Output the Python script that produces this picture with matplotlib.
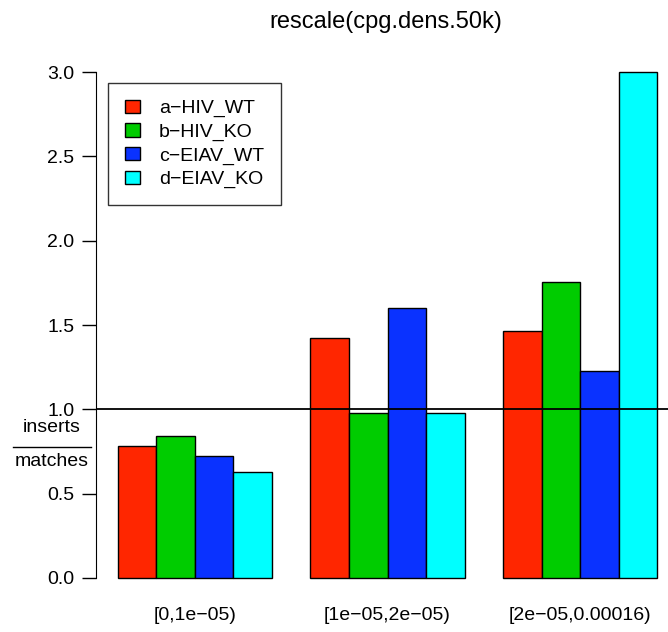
import numpy as np
import matplotlib.pyplot as plt
from matplotlib.patches import Patch
from matplotlib.lines import Line2D

plt.rcParams['font.family'] = ['Liberation Sans', 'DejaVu Sans']

# ratio of inserts to matches per CpG density bin
bins = ['[0,1e\u221205)', '[1e\u221205,2e\u221205)', '[2e\u221205,0.00016)']
samples = ['a\u2212HIV_WT', 'b\u2212HIV_KO', 'c\u2212EIAV_WT', 'd\u2212EIAV_KO']
hiv_wt = [0.78, 1.425, 1.462]
hiv_ko = [0.842, 0.98, 1.753]
eiav_wt = [0.72, 1.603, 1.229]
eiav_ko = [0.625, 0.976, 3.0]
colors = ['#FF2600', '#00CC00', '#0A32FF', '#00FFFF']

series = [hiv_wt, hiv_ko, eiav_wt, eiav_ko]
FS = 14

W, H = 668, 632
fig = plt.figure(figsize=(W / 100, H / 100), dpi=100)
# plot region in pixels (left, right, top, bottom); right edge runs off the canvas
L, R, T, B = 96.4, 678.6, 52.0, 598.0
ax = fig.add_axes([L / W, 1 - B / H, (R - L) / W, (B - T) / H])

# R-style barplot layout: width 1, one unit gap between groups
for g in range(len(bins)):
    for s, vals in enumerate(series):
        x0 = 1 + g * 5 + s
        ax.bar(x0, vals[g], width=1, align='edge', color=colors[s],
               edgecolor='black', linewidth=1.0, zorder=2)

ax.axhline(1.0, color='black', linewidth=1.3, zorder=3)

ax.set_xlim(0.44, 15.56)
ax.set_ylim(-0.12, 3.12)
for side in ['top', 'right', 'bottom']:
    ax.spines[side].set_visible(False)
ax.spines['left'].set_bounds(0, 3)
ax.spines['left'].set_position(('data', 0.44))
ax.set_yticks(np.arange(0, 3.01, 0.5))
ax.set_yticklabels([f'{v:.1f}' for v in np.arange(0, 3.01, 0.5)], fontsize=FS)
ax.tick_params(axis='y', length=10, width=1, pad=6)
ax.set_xticks([])

# group labels under each cluster of bars
for g, lab in enumerate(bins):
    fig.text((L + (3 + g * 5 - 0.44) * (R - L) / 15.12) / W, 1 - 615 / H, lab,
             ha='center', va='center', fontsize=FS)

# y label as a fraction
fig.text(52 / W, 1 - 427 / H, 'inserts', ha='center', va='center', fontsize=FS)
fig.text(52 / W, 1 - 461 / H, 'matches', ha='center', va='center', fontsize=FS)
fig.add_artist(Line2D([13 / W, 91 / W], [1 - 447 / H, 1 - 447 / H],
                      color='black', linewidth=1.0))

fig.text(386 / W, 1 - 22 / H, 'rescale(cpg.dens.50k)', ha='center', va='center',
         fontsize=17)

handles = [Patch(facecolor=c, edgecolor='black', linewidth=1.0) for c in colors]
leg = ax.legend(handles, samples, loc='upper left',
                bbox_to_anchor=(108 / W, 1 - 83 / H), bbox_transform=fig.transFigure,
                fontsize=FS, frameon=True, fancybox=False, edgecolor='black',
                handlelength=0.78, handleheight=0.68, handletextpad=1.0,
                labelspacing=0.31, borderpad=0.85, borderaxespad=0)
leg.get_frame().set_linewidth(1.0)

fig.savefig('out.png', dpi=100)
